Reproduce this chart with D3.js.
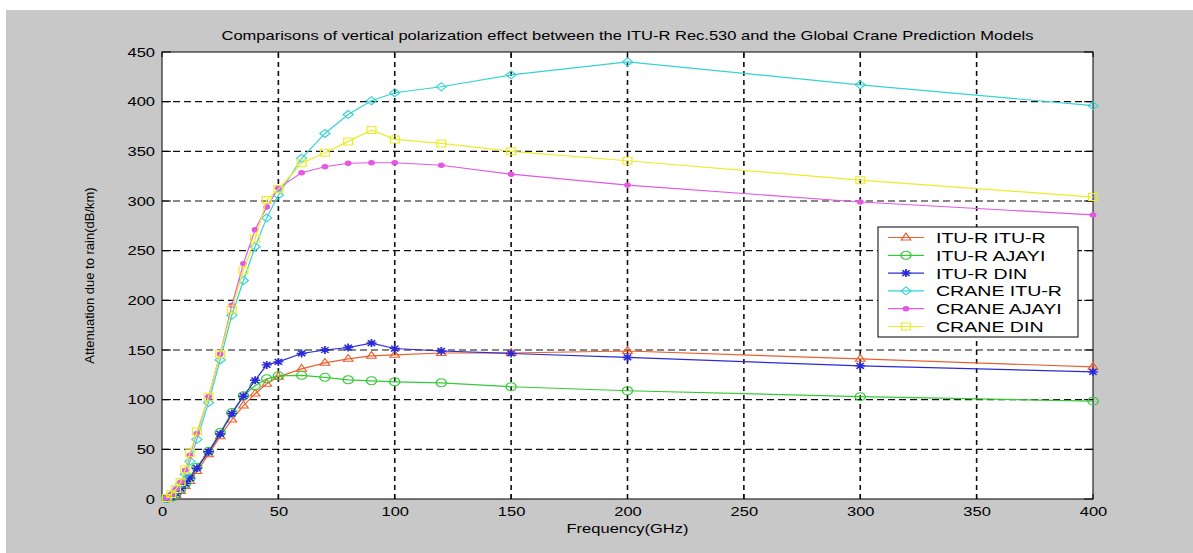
<!DOCTYPE html>
<html>
<head>
<meta charset="utf-8">
<script src="https://cdn.jsdelivr.net/npm/d3@7"></script>
<style>
  body { margin: 0; background: #fff; }
  text { font-family: "Liberation Sans", Arial, sans-serif; fill: #000; }
</style>
</head>
<body>
<svg id="chart" width="1193" height="553"></svg>
<script>
// frequencies (GHz)
var freq = [2, 4, 6, 8, 10, 12, 15, 20, 25, 30, 35, 40, 45, 50, 60, 70, 80, 90, 100, 120, 150, 200, 300, 400];

// attenuation (dB/km)
var ituItu   = [0.3, 1.5, 4, 8, 13, 18, 28, 45, 63, 80, 94, 106, 116, 123, 131, 137, 141, 144, 145, 147, 147, 149, 141, 133];
var ituAjayi = [0.4, 2, 5, 10, 15, 21, 32, 48, 67, 87, 104, 114, 121, 124, 124.5, 122.5, 120, 119, 118, 117, 113, 109, 103, 98.5];
var ituDin   = [0.3, 1.8, 5.5, 10.5, 15.5, 21, 31, 47.5, 65.5, 86, 103.5, 119.5, 135, 138, 146.5, 150, 152.5, 157, 151.5, 149, 146.5, 142.5, 134, 128];
var craneItu   = [0.8, 4, 8.5, 15, 25, 38, 60, 97, 140, 185, 220, 254, 283, 306, 343, 368, 387, 401, 409, 415, 427, 440, 417, 396];
var craneAjayi = [1, 4.5, 10, 17, 29, 44, 66, 103, 146, 195, 237, 271, 294, 313, 328.5, 334.5, 338, 338.5, 338.5, 336, 327, 316, 299, 286];
var craneDin   = [1, 5, 10, 17, 30, 46, 68, 103, 146, 191, 230, 262, 301, 312, 338, 348.5, 360, 371.5, 362, 358, 350, 340.5, 321, 304];

var seriesNames = ["ITU-R ITU-R", "ITU-R AJAYI", "ITU-R DIN", "CRANE ITU-R", "CRANE AJAYI", "CRANE DIN"];
var xTicks = [0, 50, 100, 150, 200, 250, 300, 350, 400];
var yTicks = [0, 50, 100, 150, 200, 250, 300, 350, 400, 450];

var series = [
  {name: seriesNames[0], values: ituItu,     color: "#ec5f2e", marker: "triangle"},
  {name: seriesNames[1], values: ituAjayi,   color: "#36c936", marker: "circle"},
  {name: seriesNames[2], values: ituDin,     color: "#2b2bd6", marker: "star"},
  {name: seriesNames[3], values: craneItu,   color: "#35d3d3", marker: "diamond"},
  {name: seriesNames[4], values: craneAjayi, color: "#e458e4", marker: "dot"},
  {name: seriesNames[5], values: craneDin,   color: "#ecec2a", marker: "square"}
];

var SX = 1.27; // the picture is stretched sideways

var svg = d3.select("#chart");

// figure background
svg.append("rect").attr("x", 6).attr("y", 10).attr("width", 1187).attr("height", 543).style("fill", "#c8c8c8");

var x = d3.scaleLinear().domain([0, 400]).range([162, 1093]);
var y = d3.scaleLinear().domain([0, 450]).range([499, 52]);

svg.append("rect")
  .attr("x", x(0)).attr("y", y(450))
  .attr("width", x(400) - x(0)).attr("height", y(0) - y(450))
  .style("fill", "#fff");

// grid
svg.append("g").selectAll("line.hgrid")
  .data(yTicks.slice(1, -1))
  .join("line")
  .classed("hgrid", true)
  .attr("x1", x(0)).attr("x2", x(400))
  .attr("y1", d => y(d)).attr("y2", d => y(d))
  .style("stroke", "#111").style("stroke-width", "1.2px").style("stroke-dasharray", "7,4");

svg.append("g").selectAll("line.vgrid")
  .data(xTicks.slice(1, -1))
  .join("line")
  .classed("vgrid", true)
  .attr("x1", d => x(d)).attr("x2", d => x(d))
  .attr("y1", y(0)).attr("y2", y(450))
  .style("stroke", "#111").style("stroke-width", "1.6px").style("stroke-dasharray", "5,4");

// inward ticks on all sides
var tk = svg.append("g").style("stroke", "#000").style("stroke-width", "1px");
yTicks.forEach(function(v) {
  tk.append("line").attr("x1", x(0)).attr("x2", x(0) + 9).attr("y1", y(v)).attr("y2", y(v));
  tk.append("line").attr("x1", x(400)).attr("x2", x(400) - 9).attr("y1", y(v)).attr("y2", y(v));
});
xTicks.forEach(function(v) {
  tk.append("line").attr("x1", x(v)).attr("x2", x(v)).attr("y1", y(0)).attr("y2", y(0) - 5);
  tk.append("line").attr("x1", x(v)).attr("x2", x(v)).attr("y1", y(450)).attr("y2", y(450) + 5);
});

// axes (labels only, box drawn below)
var xAxis = svg.append("g")
  .attr("transform", "translate(0," + y(0) + ")")
  .call(d3.axisBottom(x).tickValues(xTicks).tickSize(0).tickPadding(8));
var yAxis = svg.append("g")
  .attr("transform", "translate(" + x(0) + ",0)")
  .call(d3.axisLeft(y).tickValues(yTicks).tickSize(0).tickPadding(7));
[xAxis, yAxis].forEach(function(a) {
  a.select(".domain").remove();
  a.selectAll("text").style("font-size", "13px").style("font-family", "Liberation Sans, Arial, sans-serif").attr("fill", "#000");
});
xAxis.selectAll("text").attr("transform", "scale(" + SX + ",1)");
yAxis.selectAll("text").attr("x", -7 / SX).attr("transform", "scale(" + SX + ",1)");

svg.append("rect")
  .attr("x", x(0)).attr("y", y(450))
  .attr("width", x(400) - x(0)).attr("height", y(0) - y(450))
  .style("fill", "none").style("stroke", "#000").style("stroke-width", "1px");

// markers
var R = 4;
var a = R * 0.72;
var shapes = {
  triangle: "M0," + (-R - 0.5) + "L" + (R * 0.95) + "," + (R * 0.6) + "L" + (-R * 0.95) + "," + (R * 0.6) + "Z",
  circle: d3.symbol(d3.symbolCircle, Math.PI * R * R)(),
  diamond: "M0," + (-R) + "L" + R + ",0L0," + R + "L" + (-R) + ",0Z",
  square: "M-3.5,-3.5h7v7h-7Z",
  star: "M" + (-R) + ",0L" + R + ",0M0," + (-R) + "L0," + R + "M" + (-a) + "," + (-a) + "L" + a + "," + a + "M" + (-a) + "," + a + "L" + a + "," + (-a),
  dot: d3.symbol(d3.symbolCircle, Math.PI * 2.2 * 2.2)()
};

function drawMarker(g, s, px, py) {
  g.append("path")
    .attr("d", shapes[s.marker])
    .attr("transform", "translate(" + px + "," + py + ") scale(" + SX + ",1)")
    .style("fill", s.marker == "dot" ? s.color : "none")
    .style("stroke", s.color)
    .style("stroke-width", s.marker == "star" ? "1.4px" : "1px");
}

var line = d3.line()
  .x(function(d) { return x(d[0]); })
  .y(function(d) { return y(d[1]); });

series.forEach(function(s) {
  var pts = freq.map(function(f, i) { return [f, s.values[i]]; });
  var g = svg.append("g");
  g.append("path")
    .attr("d", line(pts))
    .style("fill", "none")
    .style("stroke", s.color)
    .style("stroke-width", "1.2px");
  pts.forEach(function(p) { drawMarker(g, s, x(p[0]), y(p[1])); });
});

// legend
var lg = svg.append("g");
lg.append("rect")
  .attr("x", 878).attr("y", 227).attr("width", 200).attr("height", 110)
  .style("fill", "#fff").style("stroke", "#000").style("stroke-width", "1px");
series.forEach(function(s, i) {
  var ly = 237.5 + i * 17.8;
  lg.append("line").attr("x1", 888).attr("x2", 924).attr("y1", ly).attr("y2", ly)
    .style("stroke", s.color).style("stroke-width", "1.2px");
  drawMarker(lg, s, 906, ly);
  lg.append("text")
    .attr("x", 936 / SX).attr("y", ly + 5.5)
    .attr("transform", "scale(" + SX + ",1)")
    .style("font-size", "15.4px")
    .text(s.name);
});

// title and axis labels
svg.append("text")
  .attr("x", x(200) / SX).attr("y", 40)
  .attr("transform", "scale(" + SX + ",1)")
  .attr("text-anchor", "middle")
  .style("font-size", "13px")
  .text("Comparisons of vertical polarization effect between the ITU-R Rec.530 and the Global Crane Prediction Models");

svg.append("text")
  .attr("x", x(200) / SX).attr("y", 533)
  .attr("transform", "scale(" + SX + ",1)")
  .attr("text-anchor", "middle")
  .style("font-size", "13px")
  .text("Frequency(GHz)");

svg.append("text")
  .attr("transform", "translate(94," + ((y(0) + y(450)) / 2) + ") rotate(-90)")
  .attr("text-anchor", "middle")
  .style("font-size", "13px")
  .text("Attenuation due to rain(dB/km)");
</script>
</body>
</html>
